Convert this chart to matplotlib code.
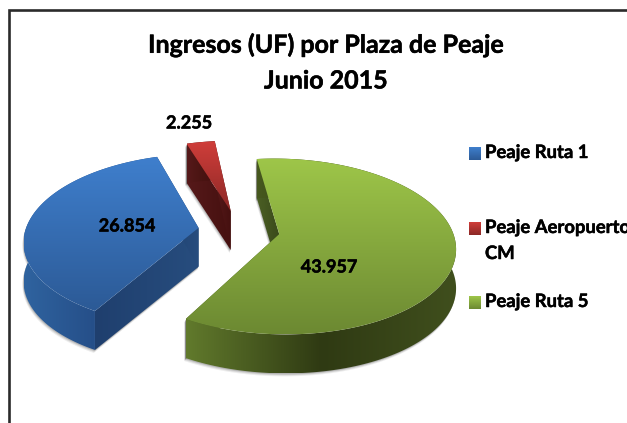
import numpy as np
from matplotlib import pyplot as plt
from matplotlib import patheffects
from matplotlib.colors import LinearSegmentedColormap
from matplotlib.patches import Polygon

plt.rcParams['font.family'] = ['Lato', 'DejaVu Sans']

title_lines = ["Ingresos (UF) por Plaza de Peaje", "Junio 2015"]
categories = ["Peaje Ruta 1", "Peaje Aeropuerto\nCM", "Peaje Ruta 5"]
values = [26854, 2255, 43957]

# look of the 3d pie, in pixels of the picture
cx, cy = 239, 230
rx, ry = 173, 85
persp = 0.14
explode = 0.236
depth = 39

top_colors = [("#3f7fcd", "#2c5a96"), ("#d03e3a", "#8c2826"), ("#9ec649", "#6c8932")]
arc_colors = [["#2f639f", "#26508a", "#214a7c"],
              ["#56191a", "#4a1412", "#45100f"],
              ["#617a2c", "#2f3a13", "#404f1d"]]
face_colors = [("#1f3f6e", "#274d7e"), ("#56191a", "#45100f"), ("#4b5f24", "#3a4a1b")]
label_pos = [(127, 226), (189, 123), (329, 267)]
legend_y = [153, 228, 302]

bold = [patheffects.withStroke(linewidth=0.35, foreground="k")]


def project(ang, ex, ey):
    U = ex + np.cos(np.radians(ang))
    V = ey + np.sin(np.radians(ang))
    w = 1 + persp * V
    return np.column_stack([cx + rx * U / w, cy - ry * V / w])


def fill_grad(ax, pts, cols, vertical, zorder):
    patch = Polygon(pts, closed=True, fc="none", ec="none", transform=ax.transData)
    ax.add_patch(patch)
    cmap = LinearSegmentedColormap.from_list("g", cols)
    grad = np.linspace(0, 1, 256)
    grad = grad[:, None] if vertical else grad[None, :]
    x0, x1 = pts[:, 0].min(), pts[:, 0].max()
    y0, y1 = pts[:, 1].min(), pts[:, 1].max()
    im = ax.imshow(grad, cmap=cmap, extent=(x0, x1, y1, y0), aspect="auto",
                   zorder=zorder, interpolation="bilinear")
    im.set_clip_path(patch)


def shadow(ax, pts, zorder):
    for off, a in [(3, 0.07), (2, 0.10), (1, 0.15)]:
        ax.add_patch(Polygon(pts + [-off * 0.4, off], closed=True, fc="k", ec="none",
                             alpha=a, zorder=zorder))


fig = plt.figure(figsize=(6.27, 4.23), dpi=100)
ax = fig.add_axes([0, 0, 1, 1])
ax.set_autoscale_on(False)
ax.set_xlim(0, 627)
ax.set_ylim(423, 0)
ax.axis("off")

# chart frame, only left and top are inside the crop
ax.plot([8.5, 8.5, 627], [423, 10.5, 10.5], color="#2b2b2b", lw=1.9, solid_joinstyle="miter")

# slices go clockwise from the lower left
shares = np.array(values) / sum(values) * 360
start = 240.0
for i in range(len(values)):
    a0 = start
    a1 = start - shares[i]
    start = a1
    mid = np.radians((a0 + a1) / 2)
    ex = explode * np.cos(mid)
    ey = explode * np.sin(mid)

    arc = project(np.linspace(a0, a1, 160), ex, ey)
    tipw = 1 + persp * ey
    tip = np.array([cx + rx * ex / tipw, cy - ry * ey / tipw])
    down = np.array([0, depth])
    z = 3 + i * 0.1

    side = np.vstack([arc, (arc + down)[::-1]])
    faces = [np.array([tip, p, p + down, tip + down]) for p in (arc[0], arc[-1])]
    shadow(ax, side, z)
    for face in faces:
        shadow(ax, face, z)
        fill_grad(ax, face, face_colors[i], False, z + 0.01)
    fill_grad(ax, side, arc_colors[i], False, z + 0.02)
    fill_grad(ax, np.vstack([tip, arc]), top_colors[i], True, z + 0.03)

for txt, (lx, ly) in zip(values, label_pos):
    ax.text(lx, ly, f"{txt:,}".replace(",", "."), fontsize=13, fontweight="bold",
            ha="center", va="center", color="k", zorder=10, path_effects=bold)

for line, ly in zip(title_lines, [45, 81]):
    ax.text(326, ly, line, fontsize=18, fontweight="bold", ha="center", va="center",
            color="k", zorder=10, path_effects=bold)

for i, name in enumerate(categories):
    ly = legend_y[i]
    square = np.array([[469, ly - 6], [481, ly - 6], [481, ly + 7], [469, ly + 7.0]])
    fill_grad(ax, square, top_colors[i], True, 5.1)
    for j, part in enumerate(name.split("\n")):
        ax.text(485, ly - 0.5 + j * 26, part, fontsize=13.3, fontweight="bold",
                ha="left", va="center", color="k", zorder=10, path_effects=bold)

fig.savefig("out.png", dpi=100)
